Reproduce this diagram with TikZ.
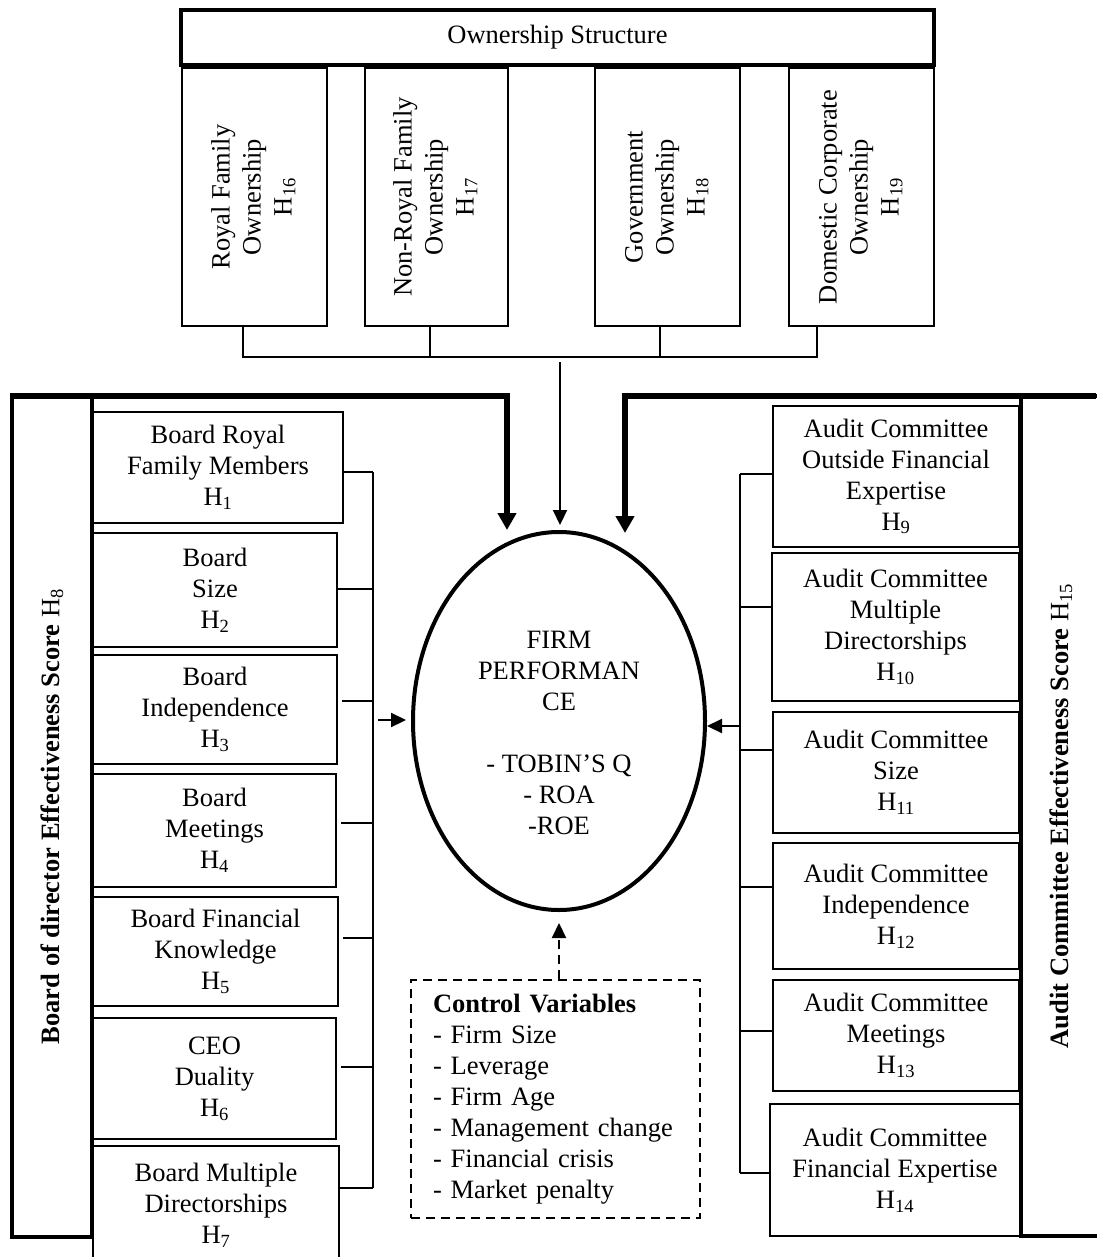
\documentclass[tikz,border=0pt]{standalone}
\usepackage{fontspec}
\setmainfont{Liberation Serif}
\usepackage{graphicx}
\usetikzlibrary{shapes.geometric,arrows.meta}
\newcommand\hyp[1]{H\textsubscript{#1}}
\newcommand\rtext[1]{\rotatebox{90}{\begin{tabular}{@{}c@{}}#1\end{tabular}}}
\begin{document}
\begin{tikzpicture}[x=1pt,y=-1pt,
  every node/.style={font=\fontsize{26.5}{31}\selectfont},
  box/.style={draw, line width=2pt, align=center, inner sep=0pt, outer sep=0pt},
  thickbox/.style={draw, line width=4.5pt, inner sep=0pt, outer sep=0pt},
  conn/.style={line width=2.2pt},
  tip/.style={-{Triangle[length=15pt,width=14pt]}, line width=2.2pt},
  bigtip/.style={-{Triangle[length=17pt,width=18pt]}, line width=5.5pt},
]
\useasboundingbox (0,0) rectangle (1096,1257);

% ---------- ownership structure ----------
\node[box, line width=4pt, minimum width=753pt, minimum height=55pt] (os) at (557.5,37.5) {Ownership Structure};
\node[box, minimum width=145pt, minimum height=258pt] (o16) at (254.5,197) {\rtext{Royal Family\\Ownership\\\hyp{16}}};
\node[box, minimum width=143pt, minimum height=258pt] (o17) at (436.5,197) {\rtext{Non-Royal Family\\Ownership\\\hyp{17}}};
\node[box, minimum width=145pt, minimum height=258pt] (o18) at (667.5,197) {\rtext{Government\\Ownership\\\hyp{18}}};
\node[box, minimum width=145pt, minimum height=258pt] (o19) at (861.5,197) {\rtext{Domestic Corporate\\Ownership\\\hyp{19}}};

\coordinate (j16) at (243,357);
\coordinate (j17) at (430,357);
\coordinate (j18) at (660,357);
\coordinate (j19) at (817,357);
\draw[conn] (o16.south -| j16) -- (j16) -- (j19) -- (o19.south -| j19);
\draw[conn] (o17.south -| j17) -- (j17);
\draw[conn] (o18.south -| j18) -- (j18);

% ---------- firm performance ----------
\node[draw, ellipse, line width=4pt, minimum width=292pt, minimum height=378pt, inner sep=0pt] (fp) at (559,721)
  {\begin{tabular}{@{}c@{}}\\[-3pt]FIRM\\PERFORMAN\\CE\\ \\- TOBIN’S Q\\- ROA\\-ROE\end{tabular}};

\coordinate (ta) at (560,362);
\draw[tip, shorten >=5pt] (ta) -- (ta |- fp.north);

% ---------- board side ----------
\node[thickbox, rotate=90, minimum width=841pt, minimum height=80pt] (bds) at (52,816.5)
  {\textbf{Board of director Effectiveness Score \textnormal{\hyp{8}}}};
\coordinate (ltop) at (9.75,396);
\coordinate (lturn) at (507,396);
\coordinate (lend) at (507,530);
\draw[bigtip] (ltop) -- (lturn) -- (lend);

\node[box, minimum width=250pt, minimum height=111pt] (h1) at (218,467.5) {Board Royal\\Family Members\\\hyp{1}};
\node[box, minimum width=244pt, minimum height=114pt] (h2) at (215,590) {Board\\Size\\\hyp{2}};
\node[box, minimum width=244pt, minimum height=109pt] (h3) at (215,709.5) {Board\\Independence\\\hyp{3}};
\node[box, minimum width=243pt, minimum height=113pt] (h4) at (214.5,830.5) {Board\\Meetings\\\hyp{4}};
\node[box, minimum width=245pt, minimum height=109pt] (h5) at (215.5,951.5) {Board Financial\\Knowledge\\\hyp{5}};
\node[box, minimum width=243pt, minimum height=121pt] (h6) at (214.5,1078.5) {CEO\\Duality\\\hyp{6}};
\node[box, minimum width=246pt, minimum height=118pt] (h7) at (216,1205) {Board Multiple\\Directorships\\\hyp{7}};

\coordinate (lbus) at (373,0);
\foreach \n/\dy/\gap in {h1/-4.5/0, h2/1/0, h3/8.5/5, h4/7.5/5, h5/13.5/5, h6/11.5/5, h7/17/0}{
  \path ([yshift=\dy pt]\n.east) coordinate (\n-s);
  \draw[conn, shorten <=\gap pt] (\n-s) -- (\n-s -| lbus);
}
\draw[conn] (h1-s -| lbus) -- (h7-s -| lbus);
\coordinate (la) at (378,720);
\draw[tip, shorten >=5pt] (la) -- (la -| fp.west);

% ---------- audit committee side ----------
\node[thickbox, rotate=90, minimum width=840pt, minimum height=80pt] (acs) at (1061,816)
  {\textbf{Audit Committee Effectiveness Score \textnormal{\hyp{15}}}};
\coordinate (rtop) at (1096,396);
\coordinate (rturn) at (625,396);
\coordinate (rend) at (625,533);
\draw[bigtip] (rtop) -- (rturn) -- (rend);

\node[box, minimum width=246pt, minimum height=141pt] (h9) at (896,476.5) {Audit Committee\\Outside Financial\\Expertise\\\hyp{9}};
\node[box, minimum width=247pt, minimum height=148pt] (h10) at (895.5,627) {Audit Committee\\Multiple\\Directorships\\\hyp{10}};
\node[box, minimum width=246pt, minimum height=121pt] (h11) at (896,772.5) {Audit Committee\\Size\\\hyp{11}};
\node[box, minimum width=246pt, minimum height=126pt] (h12) at (896,906) {Audit Committee\\Independence\\\hyp{12}};
\node[box, minimum width=246pt, minimum height=111pt] (h13) at (896,1035.5) {Audit Committee\\Meetings\\\hyp{13}};
\node[box, minimum width=250pt, minimum height=132pt] (h14) at (895,1170) {Audit Committee\\Financial Expertise\\\hyp{14}};

\coordinate (rbus) at (740,0);
\foreach \n/\dy in {h9/2.5, h10/20, h11/22.5, h12/19, h13/4.5, h14/-3}{
  \path ([yshift=\dy pt]\n.west) coordinate (\n-s);
  \draw[conn] (\n-s) -- (\n-s -| rbus);
}
\draw[conn] (h9-s -| rbus) -- (h14-s -| rbus);
\coordinate (ra) at (739,726);
\draw[tip] (ra) -- (ra -| fp.east);

% ---------- control variables ----------
\node[draw, dash pattern=on 9pt off 6pt, line width=2pt, minimum width=289pt, minimum height=238pt,
      text width=245pt, align=left, inner sep=0pt] (cv) at (555.5,1099)
  {\textbf{Control Variables}\\- Firm Size\\- Leverage\\- Firm Age\\- Management change\\- Financial crisis\\- Market penalty};
\draw[tip, dash pattern=on 9pt off 6pt, shorten >=11pt] (cv.north -| fp.south) -- (fp.south);
\end{tikzpicture}
\end{document}
